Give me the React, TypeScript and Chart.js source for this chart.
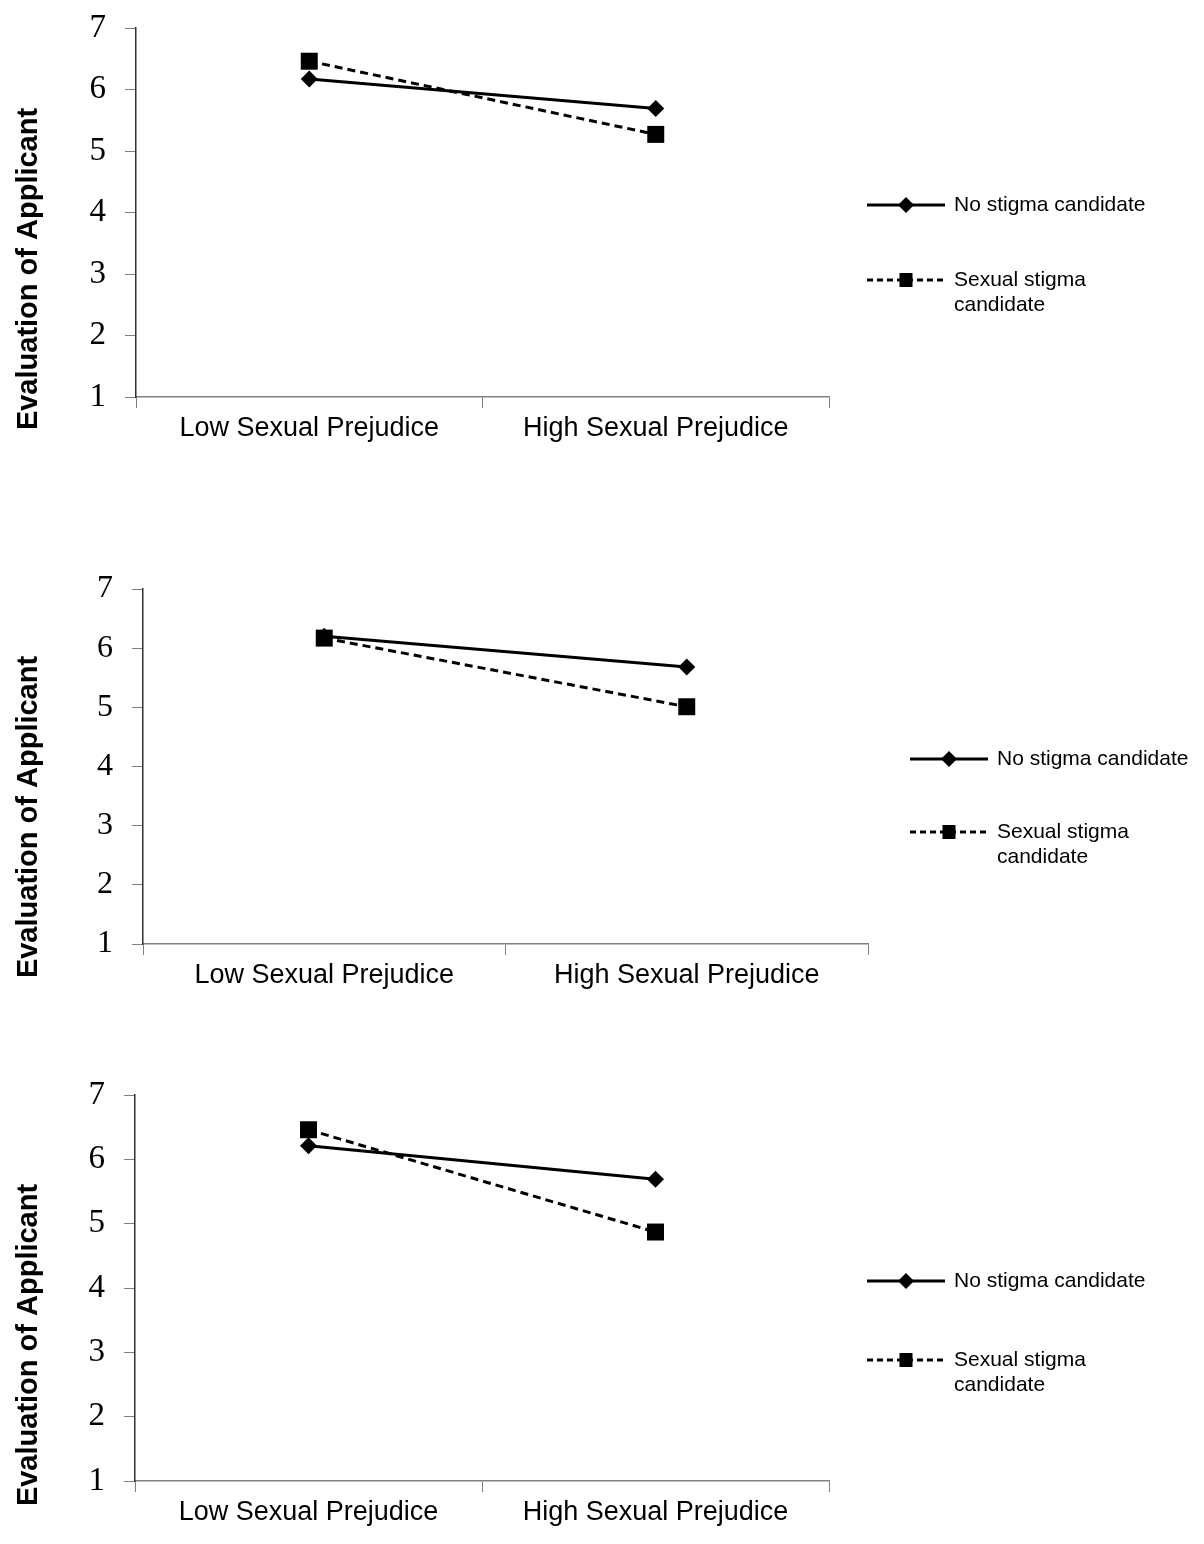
import { useEffect, useRef } from 'react';
import { Chart, registerables } from 'chart.js';

Chart.register(...registerables);

// data
const categories = ['Low Sexual Prejudice', 'High Sexual Prejudice'];
const yTickValues = [1, 2, 3, 4, 5, 6, 7];
const yTitle = 'Evaluation of Applicant';
const legendNoStigma = ['No stigma candidate'];
const legendSexualStigma = ['Sexual stigma', 'candidate'];

const panel1NoStigma = [6.17, 5.69];
const panel1SexualStigma = [6.46, 5.27];
const panel2NoStigma = [6.2, 5.68];
const panel2SexualStigma = [6.17, 5.01];
const panel3NoStigma = [6.21, 5.69];
const panel3SexualStigma = [6.46, 4.87];

const SANS = "'Liberation Sans', Arial, sans-serif";
const SERIF = "'Liberation Serif', 'Times New Roman', serif";

interface PanelLayout {
  top: number;
  height: number;
  area: { left: number; right: number; top: number; bottom: number };
  legendX: number;
  legendY: [number, number];
  titleY: number;
  tickSize: number;
}

// canvas of panel 1 starts above the page so the tick-label padding fits
const layouts: PanelLayout[] = [
  { top: -30, height: 500, area: { left: 136, right: 829, top: 58, bottom: 427 }, legendX: 867, legendY: [235, 310], titleY: 299, tickSize: 33 },
  { top: 520, height: 510, area: { left: 143, right: 868, top: 69, bottom: 424 }, legendX: 910, legendY: [239, 312], titleY: 297, tickSize: 32 },
  { top: 1040, height: 504, area: { left: 135, right: 829, top: 55, bottom: 441 }, legendX: 867, legendY: [241, 320], titleY: 305, tickSize: 33 },
];

function drawDiamond(ctx: CanvasRenderingContext2D, x: number, y: number, r: number) {
  ctx.beginPath();
  ctx.moveTo(x - r, y);
  ctx.lineTo(x, y - r);
  ctx.lineTo(x + r, y);
  ctx.lineTo(x, y + r);
  ctx.closePath();
  ctx.fill();
}

function makeDecorPlugin(layout: PanelLayout) {
  return {
    id: 'decor',
    afterDraw(chart: Chart) {
      const ctx = chart.ctx;
      ctx.save();
      ctx.fillStyle = '#000';
      ctx.strokeStyle = '#000';

      // rotated y-axis title
      ctx.save();
      ctx.translate(29, layout.titleY);
      ctx.rotate(-Math.PI / 2);
      ctx.font = `bold 29px ${SANS}`;
      ctx.textAlign = 'center';
      ctx.textBaseline = 'middle';
      ctx.fillText(yTitle, 0, 0);
      ctx.restore();

      // legend
      const x0 = layout.legendX;
      const x1 = x0 + 78;
      const mid = x0 + 39;
      const textX = x0 + 87;
      ctx.font = `21px ${SANS}`;
      ctx.textAlign = 'left';
      ctx.textBaseline = 'middle';

      let y = layout.legendY[0];
      ctx.lineWidth = 3;
      ctx.setLineDash([]);
      ctx.beginPath();
      ctx.moveTo(x0, y);
      ctx.lineTo(x1, y);
      ctx.stroke();
      drawDiamond(ctx, mid, y, 8);
      legendNoStigma.forEach((t, i) => ctx.fillText(t, textX, y + i * 25));

      y = layout.legendY[1];
      ctx.setLineDash([6, 4]);
      ctx.beginPath();
      ctx.moveTo(x0, y);
      ctx.lineTo(x1, y);
      ctx.stroke();
      ctx.setLineDash([]);
      ctx.fillRect(mid - 6.5, y - 7, 13, 14);
      legendSexualStigma.forEach((t, i) => ctx.fillText(t, textX, y + i * 25));

      ctx.restore();
    },
  };
}

function Panel({ layout, noStigma, sexualStigma }: { layout: PanelLayout; noStigma: number[]; sexualStigma: number[] }) {
  const chartRef = useRef<HTMLCanvasElement>(null);
  const chartInstance = useRef<Chart | null>(null);

  useEffect(() => {
    if (!chartRef.current) return;
    if (chartInstance.current) chartInstance.current.destroy();
    const ctx = chartRef.current.getContext('2d');
    if (!ctx) return;

    const W = 1204;
    const { area } = layout;

    chartInstance.current = new Chart(ctx, {
      type: 'line',
      data: {
        labels: categories,
        datasets: [
          {
            label: 'No stigma candidate',
            data: noStigma,
            borderColor: '#000',
            backgroundColor: '#000',
            borderWidth: 3,
            pointStyle: 'rectRot',
            pointRadius: 8.5,
            pointBorderWidth: 0,
            order: 1,
          },
          {
            label: 'Sexual stigma candidate',
            data: sexualStigma,
            borderColor: '#000',
            backgroundColor: '#000',
            borderWidth: 3,
            borderDash: [8, 5],
            pointStyle: 'rect',
            pointRadius: 12,
            pointBorderWidth: 0,
            order: 0,
          },
        ],
      },
      options: {
        animation: false,
        responsive: true,
        maintainAspectRatio: false,
        layout: {
          padding: { left: 0, top: area.top, right: W - area.right, bottom: 0 },
        },
        plugins: {
          legend: { display: false },
          tooltip: { enabled: false },
        },
        scales: {
          x: {
            type: 'category',
            offset: true,
            grid: {
              offset: true,
              drawOnChartArea: false,
              tickLength: 11,
              color: '#808080',
              tickColor: '#808080',
            },
            border: { color: '#808080', width: 1.5 },
            ticks: {
              color: '#000',
              padding: 4,
              maxRotation: 0,
              font: { family: SANS, size: 27 },
            },
            afterFit: (scale: any) => {
              scale.height = layout.height - area.bottom;
            },
          },
          y: {
            min: 1,
            max: 7,
            afterBuildTicks: (scale: any) => {
              scale.ticks = yTickValues.map(v => ({ value: v }));
            },
            grid: {
              drawOnChartArea: false,
              tickLength: 11,
              color: '#808080',
              tickColor: '#808080',
            },
            border: { color: '#303030', width: 1.5 },
            ticks: {
              color: '#000',
              padding: 19,
              font: { family: SERIF, size: layout.tickSize },
            },
            afterFit: (scale: any) => {
              scale.width = area.left;
            },
          },
        },
      },
      plugins: [makeDecorPlugin(layout)],
    });

    return () => {
      if (chartInstance.current) {
        chartInstance.current.destroy();
        chartInstance.current = null;
      }
    };
  }, [layout, noStigma, sexualStigma]);

  return (
    <div style={{ position: 'absolute', left: 0, top: layout.top, width: 1204, height: layout.height }}>
      <canvas ref={chartRef} />
    </div>
  );
}

export default function App() {
  return (
    <div style={{ position: 'absolute', left: 0, top: 0, width: 1204, height: 1544, background: '#fff', overflow: 'hidden' }}>
      <Panel layout={layouts[0]} noStigma={panel1NoStigma} sexualStigma={panel1SexualStigma} />
      <Panel layout={layouts[1]} noStigma={panel2NoStigma} sexualStigma={panel2SexualStigma} />
      <Panel layout={layouts[2]} noStigma={panel3NoStigma} sexualStigma={panel3SexualStigma} />
    </div>
  );
}
